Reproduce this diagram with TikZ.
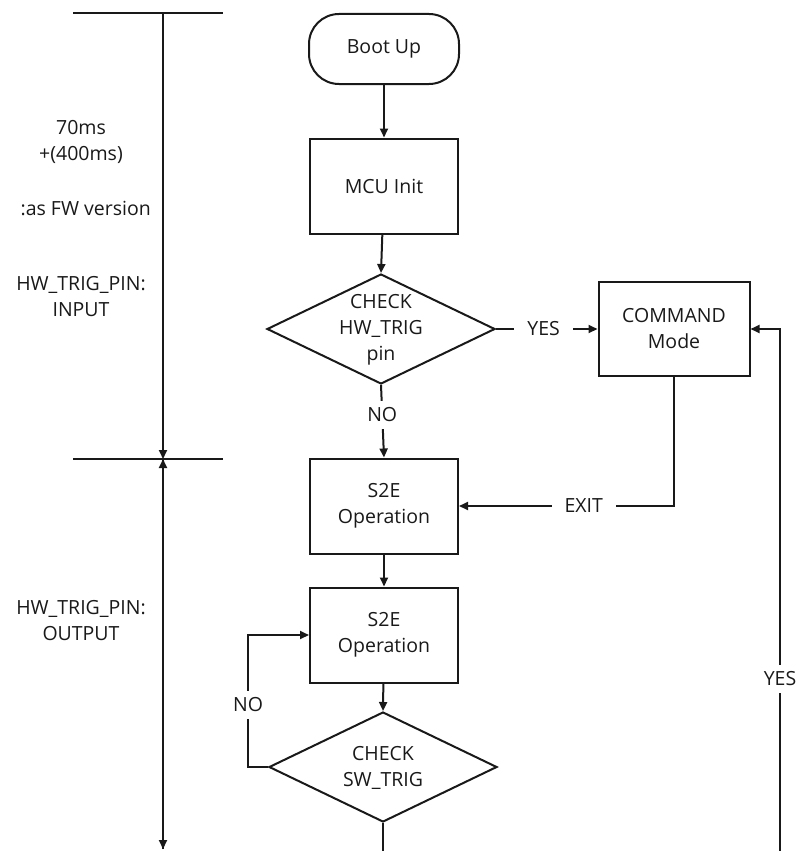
\documentclass[tikz,border=0pt]{standalone}
\usepackage{fontspec}
\setmainfont{Open Sans}
\usetikzlibrary{arrows.meta,shapes.geometric}
\begin{document}
\begin{tikzpicture}[x=1pt,y=-1pt,
  every node/.style={font=\fontsize{19.5}{26}\selectfont, text=black!90},
  ln/.style={line width=2pt, draw=black!90},
  arr/.style={ln, -{Triangle[length=9pt,width=8pt]}},
  boxnode/.style={ln, rectangle, minimum width=148pt, minimum height=95pt, align=center, inner sep=0pt},
  cmdnode/.style={ln, rectangle, minimum width=151pt, minimum height=94pt, align=center, inner sep=0pt},
  termnode/.style={ln, rectangle, rounded corners=30pt, minimum width=150pt, minimum height=70pt, inner sep=0pt},
  decnode/.style={ln, diamond, minimum width=228pt, minimum height=110pt, inner sep=0pt},
  hlbl/.style={align=center, inner xsep=13pt, inner ysep=3pt, fill=white},
  vlbl/.style={align=center, inner xsep=3pt, inner ysep=7pt, fill=white}
]
\useasboundingbox (0,0) rectangle (799,851);

% timeline on the left
\coordinate (t1l) at (73,13);
\coordinate (t1r) at (223,13);
\coordinate (t1m) at (163,13);
\coordinate (t2l) at (73,459);
\coordinate (t2r) at (223,459);
\coordinate (t2m) at (163,459);
\coordinate (t3m) at (163,849);
\draw[ln] (t1l) -- (t1r);
\draw[ln] (t2l) -- (t2r);
\draw[arr] (t1m) -- (t2m);
\draw[arr] (t2m) -- (t3m);
\draw[arr] (t3m) -- (t2m);

\node[align=center] (lt1) at (81,142) {70ms\\+(400ms)};
\node[anchor=east, inner sep=0pt] (lt2) at (151,208) {:as FW version};
\node[align=center] (lt3) at (81,297) {HW\_TRIG\_PIN:\\INPUT};
\node[align=center] (lt4) at (81,621) {HW\_TRIG\_PIN:\\OUTPUT};

% flow nodes
\node[termnode] (boot) at (384,49) {Boot Up};
\node[boxnode] (mcu) at (384,186) {MCU Init};
\node[decnode] (d1) at (381,329) {};
\node[align=center] (d1t) at (381,330) {CHECK\\HW\_TRIG\\pin};
\node[cmdnode] (cmd) at (674,329) {COMMAND\\Mode};
\node[boxnode] (s1) at (384,506) {S2E\\Operation};
\node[boxnode] (s2) at (384,635) {S2E\\Operation};
\node[decnode] (d2) at (383,767) {};
\node[align=center] (d2t) at (383,768) {CHECK\\SW\_TRIG};

% connectors
\draw[arr] (boot) -- (mcu);
\draw[arr] (mcu) -- (d1.north);
\draw[arr] (d1.east) -- node[hlbl, pos=0.47] (yes1) {YES} (cmd.west);
\draw[arr] (d1.south) -- node[vlbl, pos=0.41] (no1) {NO} (s1.north);
\draw[arr] (cmd.south) |- node[hlbl, pos=0.71] (exit) {EXIT} (s1.east);
\draw[arr] (s1) -- (s2);
\draw[arr] (s2) -- (d2.north);
\coordinate (nol) at (248,767);
\draw[arr] (d2.west) -- (nol) -- node[vlbl, pos=0.47] (no2) {NO} (nol |- s2.west) -- (s2.west);
\coordinate (d2b) at (383,851);
\draw[ln] (d2.south) -- (d2b);
\coordinate (yb) at (780,851);
\coordinate (yt) at (780,329);
\draw[arr] (yb) -- node[vlbl, pos=0.33] (yes2) {YES} (yt) -- (cmd.east);
\end{tikzpicture}
\end{document}
